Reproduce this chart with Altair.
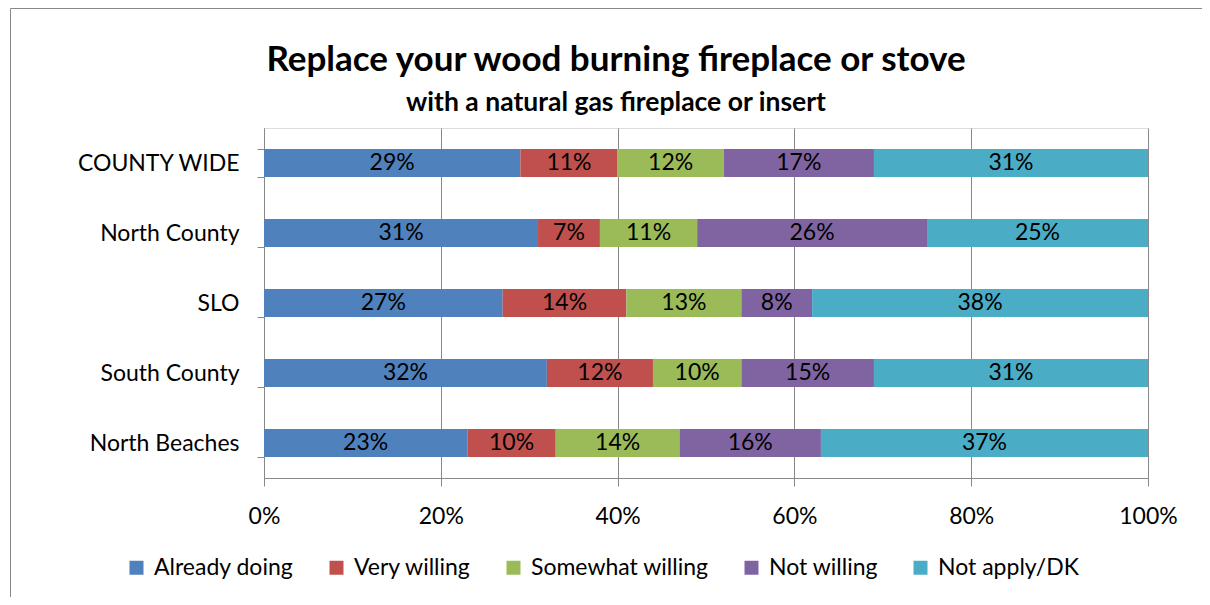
import altair as alt
import pandas as pd

title_text = "Replace your wood burning fireplace or stove"
subtitle_text = "with a natural gas fireplace or insert"
regions = ["COUNTY WIDE", "North County", "SLO", "South County", "North Beaches"]
responses = ["Already doing", "Very willing", "Somewhat willing", "Not willing", "Not apply/DK"]
already_doing = [29, 31, 27, 32, 23]
very_willing = [11, 7, 14, 12, 10]
somewhat_willing = [12, 11, 13, 10, 14]
not_willing = [17, 26, 8, 15, 16]
not_apply = [31, 25, 38, 31, 37]
colors = ["#4F81BD", "#C0504D", "#9BBB59", "#8064A2", "#4BACC6"]
x_ticks = [0, 0.2, 0.4, 0.6, 0.8, 1.0]

series = [already_doing, very_willing, somewhat_willing, not_willing, not_apply]
rows = []
for i, (name, vals) in enumerate(zip(responses, series)):
    for r, v in zip(regions, vals):
        rows.append({"region": r, "response": name, "order": i, "pct": v / 100})
df = pd.DataFrame(rows)

FONT = "Lato"
GRAY = "#888888"
FS = 23

y_enc = alt.Y(
    "region:N", sort=regions, title=None,
    scale=alt.Scale(paddingInner=0.6, paddingOuter=0.3),
    axis=alt.Axis(tickBand="extent", tickSize=7, labelPadding=18, domainColor=GRAY,
                  tickColor=GRAY, labelColor="black", labelFontSize=FS, labelFont=FONT,
                  grid=False),
)

base = alt.Chart(df).transform_stack(
    stack="pct", groupby=["region"], sort=[alt.SortField("order", order="ascending")],
    as_=["x0", "x1"],
).transform_calculate(mid="(datum.x0 + datum.x1) / 2")

bars = base.mark_bar().encode(
    x=alt.X("x0:Q", title=None, scale=alt.Scale(domain=[0, 1], nice=False),
            axis=alt.Axis(values=x_ticks, format="%", grid=True, gridColor=GRAY,
                          tickSize=8, labelPadding=19, domainColor=GRAY, tickColor=GRAY,
                          labelFlush=False, labelOverlap=False,
                          labelColor="black", labelFontSize=FS, labelFont=FONT)),
    x2="x1:Q",
    y=y_enc,
    color=alt.Color("response:N", scale=alt.Scale(domain=responses, range=colors),
                    sort=responses,
                    legend=alt.Legend(title=None, orient="none", direction="horizontal",
                                      legendX=-139, legendY=428, symbolType="square",
                                      symbolSize=196, symbolStrokeWidth=0, labelFontSize=FS,
                                      labelFont=FONT, labelColor="black", labelOffset=6,
                                      labelLimit=0, columnPadding=31, columns=5)),
)

labels = base.mark_text(fontSize=FS, font=FONT, color="black").encode(
    x="mid:Q",
    y=alt.Y("region:N", sort=regions),
    text=alt.Text("pct:Q", format=".0%"),
)

frame = alt.Chart(pd.DataFrame({"k": [0]})).mark_rect(
    fill="transparent", stroke="#888888", strokeWidth=1
).encode(x=alt.value(-253.5), x2=alt.value(960), y=alt.value(-119.5), y2=alt.value(495))

title = alt.Chart(pd.DataFrame({"k": [0]})).mark_text(
    font=FONT, fontSize=35, fontWeight="bold", color="black", align="center",
    baseline="alphabetic",
).encode(x=alt.value(352), y=alt.value(-57), text=alt.value(title_text))

subtitle = alt.Chart(pd.DataFrame({"k": [0]})).mark_text(
    font=FONT, fontSize=26.5, fontWeight="bold", color="black", align="center",
    baseline="alphabetic",
).encode(x=alt.value(352), y=alt.value(-17), text=alt.value(subtitle_text))

chart = alt.layer(frame, bars, labels, title, subtitle).properties(
    width=884, height=350,
    autosize=alt.AutoSizeParams(type="none"),
    padding={"left": 256, "top": 120, "right": 54, "bottom": 119},
).configure_view(stroke=None).configure(background="white")

chart.save("out.html", embed_options={"renderer": "svg", "actions": False})
